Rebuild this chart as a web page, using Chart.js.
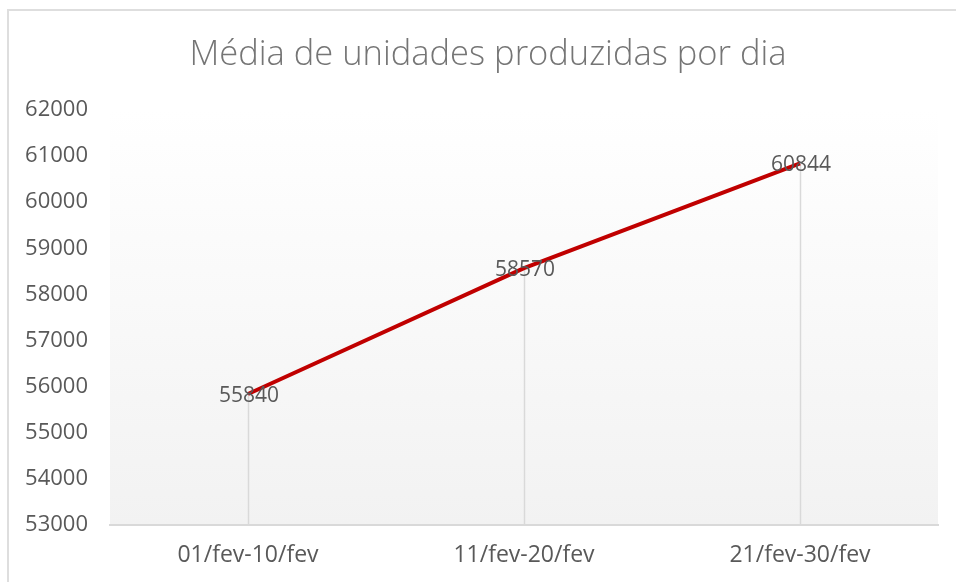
<!DOCTYPE html>
<html>
<head>
<meta charset="utf-8">
<script src="https://cdn.jsdelivr.net/npm/chart.js@4/dist/chart.umd.min.js"></script>
<style>
  html, body { margin: 0; padding: 0; background: #ffffff; }
  #wrap { position: absolute; left: 0; top: 0; width: 956px; height: 582px; }
</style>
</head>
<body>
<div id="wrap"><canvas id="line_chart_id" width="956" height="582"></canvas></div>
<script>
const COLORS = {
    RED: '#c00000',
    TEXT: '#595959',
    TITLE: '#757575',
    GRID: '#d9d9d9',
    BORDER: '#dedede'
};

const chartTitle = 'Média de unidades produzidas por dia';
const categories = ['01/fev-10/fev', '11/fev-20/fev', '21/fev-30/fev'];
const producedPerDay = [55840, 58570, 60844];
const yMin = 53000;
const yMax = 62000;
const yStep = 1000;

// border of the chart box + gradient behind the plot area
const backgroundPlugin = {
    id: 'background',
    beforeDraw(chart) {
        const ctx = chart.ctx;
        const area = chart.chartArea;
        ctx.save();
        ctx.strokeStyle = COLORS.BORDER;
        ctx.lineWidth = 2;
        ctx.strokeRect(8, 10, 1000, 700);
        const grad = ctx.createLinearGradient(0, area.top, 0, area.bottom);
        grad.addColorStop(0, '#ffffff');
        grad.addColorStop(1, '#f2f2f2');
        ctx.fillStyle = grad;
        ctx.fillRect(area.left, area.top, area.right - area.left, area.bottom - area.top);
        ctx.restore();
    }
};

// title is centred on the whole box, not on the chart minus padding
const titlePlugin = {
    id: 'boxTitle',
    afterDraw(chart) {
        const ctx = chart.ctx;
        ctx.save();
        ctx.font = '300 34.5px "Open Sans"';
        ctx.fillStyle = COLORS.TITLE;
        ctx.textAlign = 'center';
        ctx.textBaseline = 'middle';
        ctx.fillText(chartTitle, 488, 55);
        ctx.restore();
    }
};

// vertical drop lines from each point down to the axis
const dropLinesPlugin = {
    id: 'dropLines',
    beforeDatasetsDraw(chart) {
        const ctx = chart.ctx;
        const bottom = chart.scales.y.getPixelForValue(yMin);
        ctx.save();
        ctx.strokeStyle = COLORS.GRID;
        ctx.lineWidth = 1.5;
        chart.getDatasetMeta(0).data.forEach(pt => {
            ctx.beginPath();
            ctx.moveTo(Math.round(pt.x) + 0.5, pt.y);
            ctx.lineTo(Math.round(pt.x) + 0.5, bottom);
            ctx.stroke();
        });
        ctx.restore();
    }
};

// value labels centred on each point
const dataLabelsPlugin = {
    id: 'dataLabels',
    afterDatasetsDraw(chart) {
        const ctx = chart.ctx;
        ctx.save();
        ctx.font = '21px "Open Sans"';
        ctx.fillStyle = COLORS.TEXT;
        ctx.textAlign = 'center';
        ctx.textBaseline = 'middle';
        chart.getDatasetMeta(0).data.forEach((pt, i) => {
            ctx.fillText(String(producedPerDay[i]), pt.x + 1, pt.y + 2);
        });
        ctx.restore();
    }
};

const config = {
    type: 'line',
    data: {
        labels: categories,
        datasets: [{
            data: producedPerDay,
            borderColor: COLORS.RED,
            borderWidth: 4,
            pointRadius: 0,
            pointHoverRadius: 0,
            fill: false,
            tension: 0
        }]
    },
    options: {
        responsive: false,
        animation: false,
        layout: { padding: { left: 0, right: 18, top: 110, bottom: 0 } },
        plugins: {
            legend: { display: false },
            tooltip: { enabled: false },
            title: { display: false }
        },
        scales: {
            x: {
                offset: true,
                grid: { display: false, drawTicks: false },
                border: { display: true, color: COLORS.GRID, width: 2 },
                ticks: {
                    color: COLORS.TEXT,
                    font: { family: '"Open Sans"', size: 23 },
                    padding: 17,
                    maxRotation: 0
                },
                afterFit: (scale) => { scale.height = 57; }
            },
            y: {
                min: yMin,
                max: yMax,
                grid: { display: false, drawTicks: false },
                border: { display: false },
                ticks: {
                    stepSize: yStep,
                    color: COLORS.TEXT,
                    font: { family: '"Open Sans"', size: 22 },
                    padding: 22,
                    callback: v => String(v)
                },
                afterFit: (scale) => { scale.width = 110; }
            }
        }
    },
    plugins: [backgroundPlugin, dropLinesPlugin, dataLabelsPlugin, titlePlugin]
};

const newChart = new Chart(document.getElementById('line_chart_id'), config);
</script>
</body>
</html>
